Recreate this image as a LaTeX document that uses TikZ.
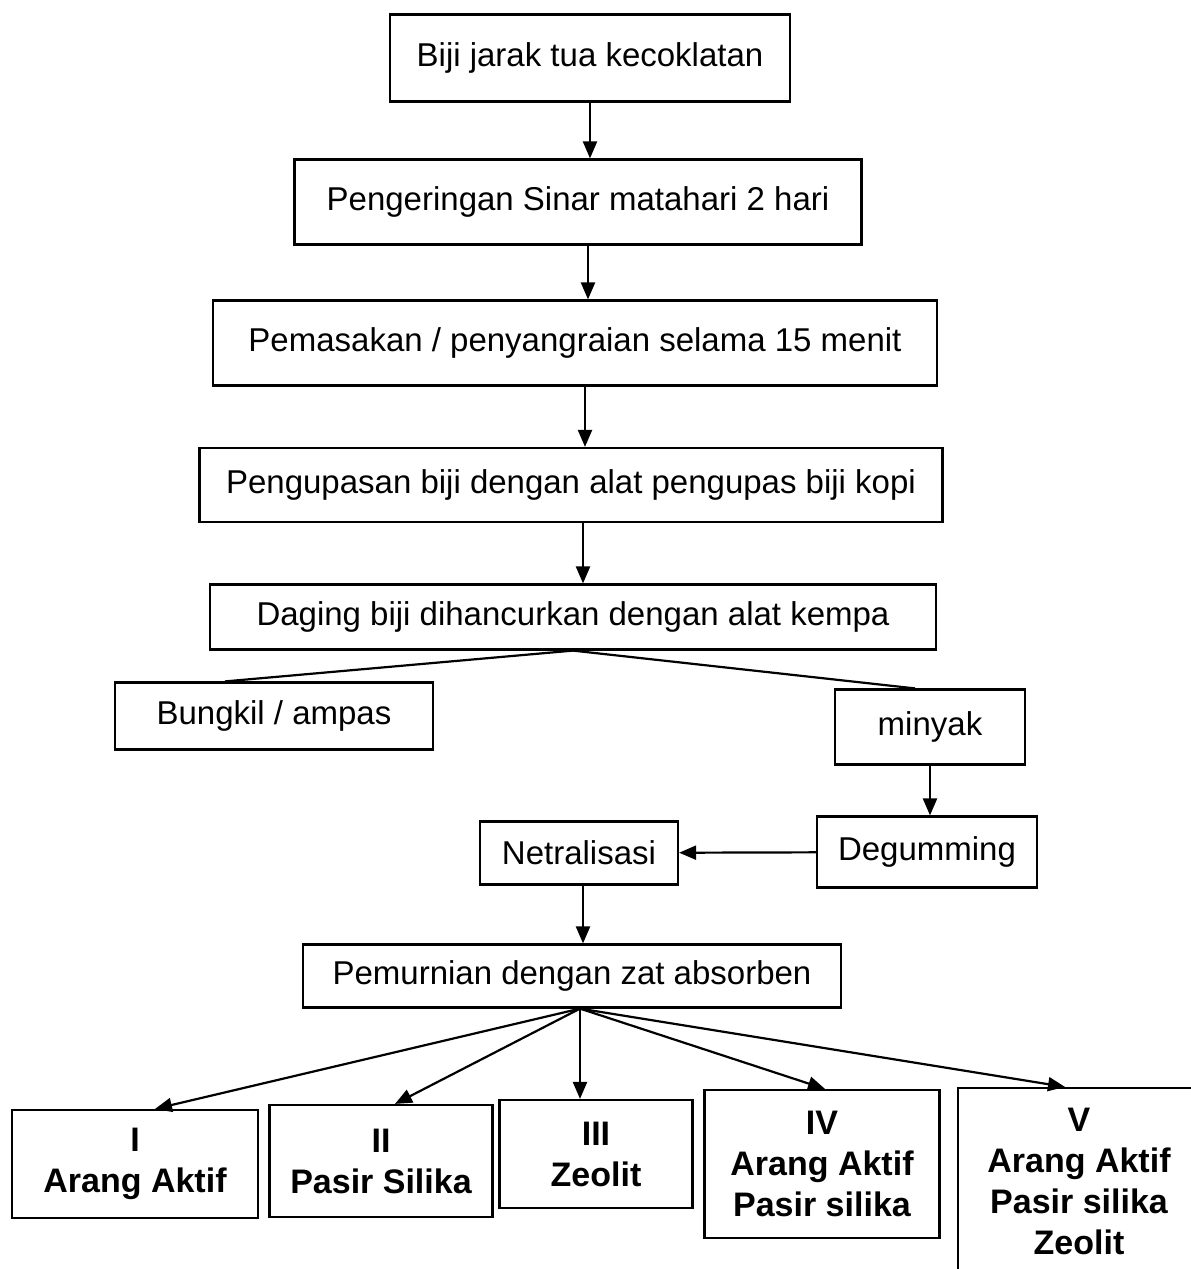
\documentclass[tikz,border=0pt]{standalone}
\usepackage{fontspec}
\setmainfont{Liberation Sans}
\usetikzlibrary{arrows.meta}

\tikzstyle{box}=[draw,line width=2.2pt,inner sep=0pt,font=\fontsize{33}{40}\selectfont]
\tikzstyle{boldbox}=[box,align=center,font=\fontsize{34}{41}\selectfont\bfseries]
\tikzstyle{arrow}=[draw,line width=2.2pt,-{Triangle[length=17pt,width=14pt]}]
\tikzstyle{edge}=[draw,line width=2.2pt,-]

\begin{document}
\begin{tikzpicture}[x=1pt, y=-1pt]
    \useasboundingbox (0,0) rectangle (1191,1269);
    % First we draw the boxes of the process
    \node[box,minimum width=400,minimum height=87] (biji) at (590,58) {Biji jarak tua kecoklatan};
    \node[box,minimum width=567,minimum height=85] (kering) at (578,202) {Pengeringan Sinar matahari 2 hari};
    \node[box,minimum width=724,minimum height=85] (masak) at (575,343) {Pemasakan / penyangraian selama 15 menit};
    \node[box,minimum width=743,minimum height=74] (kupas) at (571,485) {Pengupasan biji dengan alat pengupas biji kopi};
    \node[box,minimum width=726,minimum height=65] (daging) at (573,617) {Daging biji dihancurkan dengan alat kempa};
    \node[box,minimum width=318,minimum height=67] (bungkil) at (274,716) {Bungkil / ampas};
    \node[box,minimum width=190,minimum height=75] (minyak) at (930,727) {minyak};
    \node[box,minimum width=220,minimum height=71] (degum) at (927,852) {Degumming};
    \node[box,minimum width=198,minimum height=63] (netral) at (579,853) {Netralisasi};
    \node[box,minimum width=538,minimum height=63] (murni) at (572,976) {Pemurnian dengan zat absorben};
    % the five absorbent treatments
    \node[boldbox,minimum width=246,minimum height=108] (satu) at (135,1164) {I\\Arang Aktif};
    \node[boldbox,minimum width=223,minimum height=112] (dua) at (381,1161) {II\\Pasir Silika};
    \node[boldbox,minimum width=193,minimum height=108] (tiga) at (596,1154) {III\\Zeolit};
    \node[boldbox,minimum width=235,minimum height=148] (empat) at (822,1164) {IV\\Arang Aktif\\Pasir silika};
    \node[boldbox,minimum width=242,minimum height=186] (lima) at (1079,1181) {V\\Arang Aktif\\Pasir silika\\Zeolit};
    % Connect the boxes with arrows
    \foreach \source/\dest/\dx in {biji/kering/0, kering/masak/10, masak/kupas/10, kupas/daging/12, minyak/degum/0, netral/murni/4}
        \path[arrow] ([xshift=\dx]\source.south) -- ([xshift=\dx]\source.south |- \dest.north);
    \path[arrow] (degum) -- (netral);
    \path[edge] (daging.south) -- ([xshift=-49]bungkil.north);
    \path[edge] (daging.south) -- ([xshift=-15]minyak.north);
    \foreach \dest/\dx in {satu/20, dua/14, tiga/-16, empat/3, lima/-14}
        \path[arrow] ([xshift=8]murni.south) -- ([xshift=\dx]\dest.north);
\end{tikzpicture}
\end{document}
